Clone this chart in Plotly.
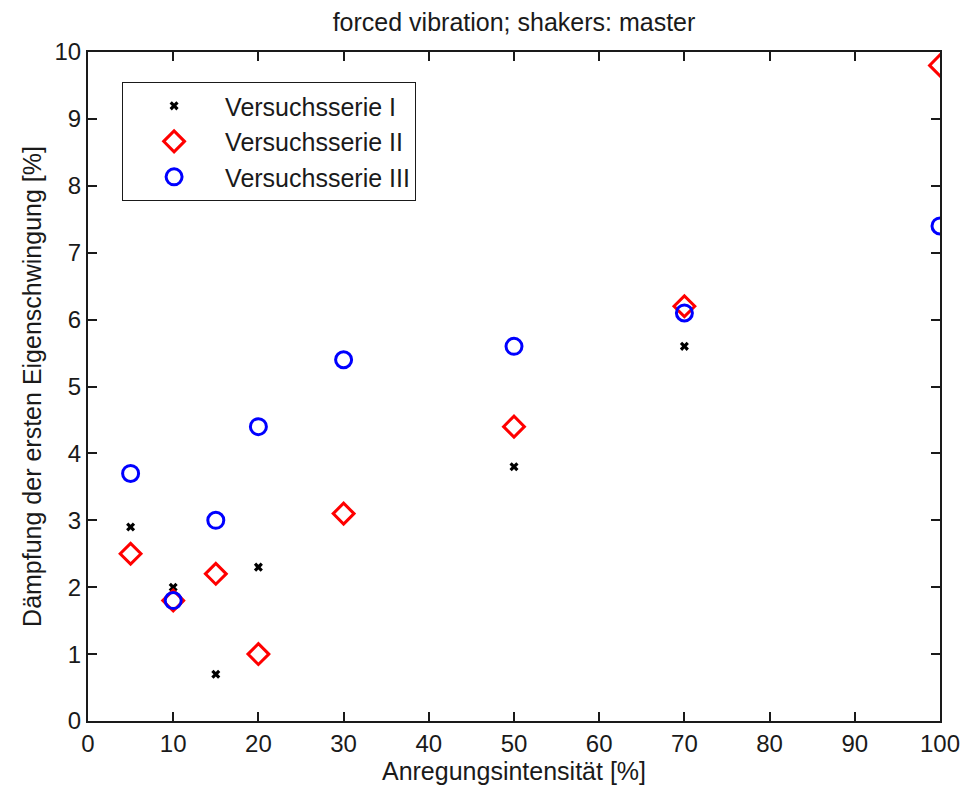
import plotly.graph_objects as go

x1 = [5, 10, 15, 20, 50, 70]
y1 = [2.9, 2.0, 0.7, 2.3, 3.8, 5.6]
x2 = [5, 10, 15, 20, 30, 50, 70, 100]
y2 = [2.5, 1.8, 2.2, 1.0, 3.1, 4.4, 6.2, 9.8]
x3 = [5, 10, 15, 20, 30, 50, 70, 100]
y3 = [3.7, 1.8, 3.0, 4.4, 5.4, 5.6, 6.1, 7.4]
names = ["Versuchsserie I", "Versuchsserie II", "Versuchsserie III"]

font = "Liberation Sans, Arial, sans-serif"
fig = go.Figure()
fig.add_trace(go.Scatter(x=x1, y=y1, mode="markers", name=names[0],
                         marker=dict(symbol="x", size=8, color="black")))
fig.add_trace(go.Scatter(x=x2, y=y2, mode="markers", name=names[1],
                         marker=dict(symbol="diamond-open", size=16, color="red",
                                     line=dict(width=3, color="red"))))
fig.add_trace(go.Scatter(x=x3, y=y3, mode="markers", name=names[2],
                         marker=dict(symbol="circle-open", size=16, color="blue",
                                     line=dict(width=3, color="blue"))))

axis_common = dict(showgrid=False, zeroline=False, showline=True, linecolor="#1a1a1a",
                   linewidth=2, mirror="ticks", ticks="inside", ticklen=9, tickwidth=2,
                   automargin=False,
                   tickcolor="#1a1a1a", tickfont=dict(size=24, color="#1a1a1a", family=font))
fig.update_layout(
    width=962, height=796,
    margin=dict(l=88, r=22, t=52, b=75, autoexpand=False),
    paper_bgcolor="white", plot_bgcolor="white",
    font=dict(family=font, color="#1a1a1a", size=24),
    title=dict(text="forced vibration; shakers: master", x=0.5, xref="paper", xanchor="center",
               y=1 - 22 / 796, yanchor="middle", font=dict(size=25, family=font)),
    xaxis=dict(range=[0, 100], dtick=10, tick0=0,
               title=dict(text="Anregungsintensität [%]", font=dict(size=25), standoff=4),
               **axis_common),
    yaxis=dict(range=[0, 10], dtick=1, tick0=0,
               title=dict(text="Dämpfung der ersten Eigenschwingung [%]", font=dict(size=25), standoff=6),
               **axis_common),
    legend=dict(x=0.04, y=0.955, xanchor="left", yanchor="top",
                bgcolor="white", bordercolor="#1a1a1a", borderwidth=1,
                font=dict(size=25, family=font), itemwidth=92),
    showlegend=True,
)
fig.write_html("out.html")
